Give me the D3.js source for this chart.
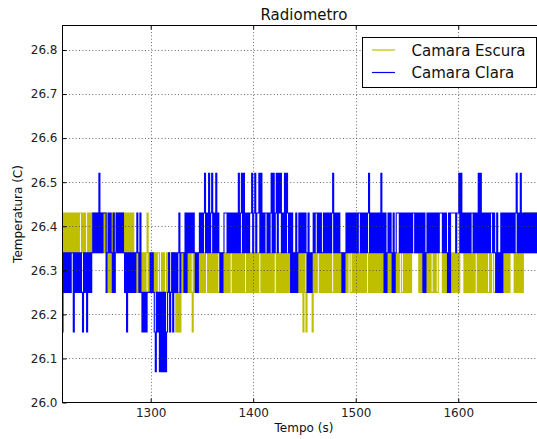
<!DOCTYPE html>
<html>
<head>
<meta charset="utf-8">
<script src="https://cdn.jsdelivr.net/npm/d3@7"></script>
<style>
  body { margin: 0; background: #fff; }
  svg { display: block; font-family: "DejaVu Sans", sans-serif; }
</style>
</head>
<body>
<script>
const w = 537;
const h = 439;
const plot = {left: 62.5, top: 25.5, right: 545.4, bottom: 402.5};

const title = "Radiometro";
const xLabel = "Tempo (s)";
const yLabel = "Temperatura (C)";
const seriesNames = ["Camara Escura", "Camara Clara"];
const seriesColors = ["#bfbf00", "#0000ff"];
const xTicks = [1300, 1400, 1500, 1600];
const yTicks = [26.0, 26.1, 26.2, 26.3, 26.4, 26.5, 26.6, 26.7, 26.8];
const xDomain = [1214, 1685];
const yDomain = [26.0, 26.8556];

// one sample per second from startTime, each digit is an index into levels
const startTime = 1214;
const levels = [26.07, 26.16, 26.25, 26.34, 26.43, 26.52];

const escura = [
  "343434",
  "3434343434", "3443434334", "3434343434", "3434343432", "3234343434", // 1220-1269
  "3434343434", "3434323232", "3232323423", "2323232332", "2323223232", // 1270-1319
  "2323212121", "2323232323", "2132323232", "3232332323", "2323232232", // 1320-1369
  "3232323233", "2323232323", "2322323232", "3232323323", "2323232323", // 1370-1419
  "2332323232", "3232323223", "3232323231", "3213232313", "2323323232", // 1420-1469
  "3232323223", "2323232323", "2323322323", "2323232323", "2332323232", // 1470-1519
  "3232323223", "2323232323", "2323322323", "2323233333", "3323232323", // 1520-1569
  "2323223232", "2333323232", "3232323232", "3233332323", "2323232332", // 1570-1619
  "3232323232", "2323322323", "2323232323", "2333323232", "3232343434", // 1620-1669
  "3434343434", "343434"
];

const clara = [
  "132323",
  "2323313232", "3232132313", "2323434343", "5343444234", "3432423434", // 1220-1269
  "3434323132", "3232323432", "4212121222", "3232102120", "2020201231", // 1270-1319
  "2313232342", "3332424343", "4343232343", "4345343534", "5343534323", // 1320-1369
  "2344434343", "4343435345", "3534343445", "3453445353", "4344343453", // 1370-1419
  "5345354534", "3535434242", "3242343434", "3432423234", "3443434334", // 1420-1469
  "3434343453", "4343433232", "3434343434", "3434434343", "4345343434", // 1470-1519
  "3434353424", "2343432423", "4443434343", "4343434434", "3434342423", // 1520-1569
  "4343434343", "4344434343", "2424444434", "4535343434", "3434434343", // 1570-1619
  "5353434343", "4344343242", "3242434343", "4343434534", "3534343434", // 1620-1669
  "3434343434", "343434"
];

function toPoints(rows) {
  return rows.join("").split("").map((c, i) => ({t: startTime + i, v: levels[+c]}));
}
const series = [toPoints(escura), toPoints(clara)];

const xScale = d3.scaleLinear().domain(xDomain).range([plot.left, plot.right]);
const yScale = d3.scaleLinear().domain(yDomain).range([plot.bottom, plot.top]);

const svg = d3.select("body")
  .append("svg")
  .attr("width", w)
  .attr("height", h);

svg.append("rect").attr("width", w).attr("height", h).attr("fill", "#fff");

svg.append("clipPath")
  .attr("id", "clip")
  .append("rect")
  .attr("x", plot.left)
  .attr("y", plot.top)
  .attr("width", plot.right - plot.left)
  .attr("height", plot.bottom - plot.top);

// step curve: the signal jumps between quantised levels each sample
const line = d3.line()
  .curve(d3.curveStep)
  .x(d => xScale(d.t))
  .y(d => yScale(d.v));

svg.append("g")
  .attr("clip-path", "url(#clip)")
  .selectAll("path")
  .data(series)
  .enter()
  .append("path")
  .attr("d", line)
  .attr("fill", "none")
  .attr("stroke", (d, i) => seriesColors[i])
  .attr("stroke-width", 1.1);

// grid on top of lines, like matplotlib classic
const grid = svg.append("g")
  .attr("stroke", "#444")
  .attr("stroke-width", 0.8)
  .attr("stroke-dasharray", "1 2.3");

grid.selectAll(".gx")
  .data(xTicks)
  .enter()
  .append("line")
  .attr("x1", d => Math.round(xScale(d)) + 0.5)
  .attr("x2", d => Math.round(xScale(d)) + 0.5)
  .attr("y1", plot.top)
  .attr("y2", plot.bottom);

grid.selectAll(".gy")
  .data(yTicks.slice(1))
  .enter()
  .append("line")
  .attr("x1", plot.left)
  .attr("x2", plot.right)
  .attr("y1", d => Math.round(yScale(d)) + 0.5)
  .attr("y2", d => Math.round(yScale(d)) + 0.5);

// axes with inward ticks
const xAxis = d3.axisBottom(xScale)
  .tickValues(xTicks)
  .tickFormat(d3.format("d"))
  .tickSizeInner(-4)
  .tickSizeOuter(0)
  .tickPadding(6);

const yAxis = d3.axisLeft(yScale)
  .tickValues(yTicks)
  .tickFormat(d3.format(".1f"))
  .tickSizeInner(-4)
  .tickSizeOuter(0)
  .tickPadding(5);

const gx = svg.append("g")
  .attr("transform", "translate(0," + plot.bottom + ")")
  .call(xAxis);

const gy = svg.append("g")
  .attr("transform", "translate(" + plot.left + ",0)")
  .call(yAxis);

const gxTop = svg.append("g")
  .attr("transform", "translate(0," + plot.top + ")")
  .call(d3.axisTop(xScale).tickValues(xTicks).tickSizeInner(-4).tickSizeOuter(0).tickFormat(""));

[gx, gy, gxTop].forEach(g => {
  g.select(".domain").remove();
  g.selectAll("line").attr("stroke", "#000");
  g.selectAll("text")
    .attr("fill", "#222")
    .style("font-size", "12px")
    .style("font-family", "DejaVu Sans, sans-serif");
});

svg.append("rect")
  .attr("x", plot.left)
  .attr("y", plot.top)
  .attr("width", plot.right + 10 - plot.left)
  .attr("height", plot.bottom - plot.top)
  .attr("fill", "none")
  .attr("stroke", "#000")
  .attr("stroke-width", 1);

svg.append("text")
  .attr("x", (plot.left + plot.right) / 2)
  .attr("y", 20)
  .attr("text-anchor", "middle")
  .style("font-size", "15px")
  .attr("fill", "#111")
  .text(title);

svg.append("text")
  .attr("x", (plot.left + plot.right) / 2)
  .attr("y", 432)
  .attr("text-anchor", "middle")
  .style("font-size", "12px")
  .attr("fill", "#111")
  .text(xLabel);

svg.append("text")
  .attr("transform", "translate(22," + (plot.top + plot.bottom) / 2 + ") rotate(-90)")
  .attr("text-anchor", "middle")
  .style("font-size", "12px")
  .attr("fill", "#111")
  .text(yLabel);

// legend
const legend = svg.append("g");
legend.append("rect")
  .attr("x", 362.5)
  .attr("y", 37.5)
  .attr("width", 174)
  .attr("height", 50)
  .attr("fill", "#fff")
  .attr("stroke", "#000")
  .attr("stroke-width", 1);

const items = legend.selectAll(".item")
  .data(seriesNames)
  .enter()
  .append("g")
  .attr("transform", (d, i) => "translate(0," + (50 + i * 22.5) + ")");

items.append("line")
  .attr("x1", 372)
  .attr("x2", 395)
  .attr("stroke", (d, i) => seriesColors[i])
  .attr("stroke-width", 1.2);

items.append("text")
  .attr("x", 411.5)
  .attr("y", 5.5)
  .style("font-size", "15px")
  .attr("fill", "#111")
  .text(d => d);
</script>
</body>
</html>
